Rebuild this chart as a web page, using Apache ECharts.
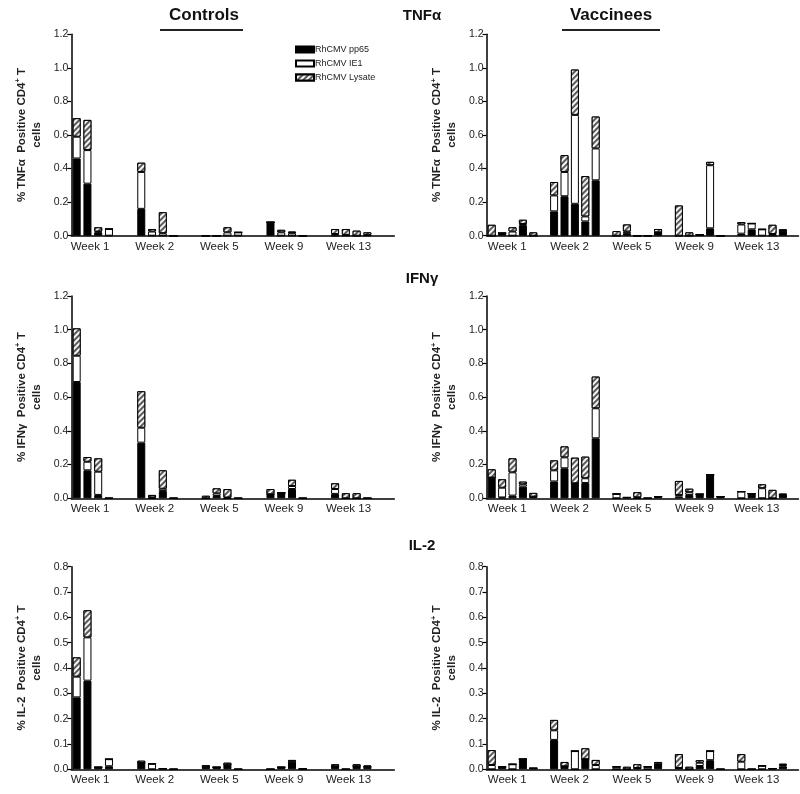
<!DOCTYPE html>
<html><head><meta charset="utf-8">
<script src="https://cdn.jsdelivr.net/npm/echarts@6/dist/echarts.min.js"></script>
<style>html,body{margin:0;padding:0;background:#fff}#c{width:800px;height:794px}</style>
</head><body><div id="c"></div>
<script>
const weeks = ['Week 1', 'Week 2', 'Week 5', 'Week 9', 'Week 13'];
const antigens = ['RhCMV pp65', 'RhCMV IE1', 'RhCMV Lysate'];

// rows = weeks, columns = animals
const tnfCtrlPp65 = [[0.46,0.31,0.02,0],[0.16,0,0,0],[0,0,0,0],[0.08,0,0,0],[0,0,0,0]];
const tnfCtrlIe1  = [[0.13,0.20,0.005,0.04],[0.22,0.025,0.015,0],[0,0,0.02,0.02],[0,0.02,0.015,0],[0.01,0.005,0,0.005]];
const tnfCtrlLys  = [[0.11,0.18,0.025,0],[0.055,0.015,0.125,0],[0,0,0.03,0],[0,0.015,0.01,0],[0.03,0.035,0.03,0.015]];

const tnfVacPp65 = [[0,0.015,0,0.063,0],[0.145,0.235,0.19,0.085,0.33],[0,0.015,0,0,0.02],[0,0,0.005,0.044,0],[0.012,0.038,0,0,0.03]];
const tnfVacIe1  = [[0,0,0.025,0.007,0],[0.095,0.145,0.53,0.03,0.19],[0,0.01,0,0,0],[0,0,0,0.376,0],[0.055,0.035,0.038,0.01,0]];
const tnfVacLys  = [[0.065,0,0.025,0.025,0.02],[0.08,0.10,0.27,0.24,0.19],[0.028,0.042,0,0,0.02],[0.18,0.02,0,0.02,0],[0.014,0,0,0.055,0.008]];

const ifnCtrlPp65 = [[0.69,0.166,0.02,0],[0.33,0,0.043,0],[0,0.014,0,0],[0.024,0.032,0.055,0],[0.026,0,0,0]];
const ifnCtrlIe1  = [[0.156,0.051,0.138,0],[0.089,0.005,0.014,0],[0,0.015,0.005,0],[0,0,0.018,0],[0.029,0,0,0]];
const ifnCtrlLys  = [[0.162,0.028,0.079,0],[0.216,0.015,0.109,0],[0.015,0.03,0.05,0],[0.031,0,0.037,0],[0.034,0.03,0.03,0]];

const ifnVacPp65 = [[0.123,0.005,0.016,0.069,0.01],[0.10,0.178,0.089,0.091,0.356],[0,0.005,0,0,0.01],[0.01,0.02,0.024,0.14,0.01],[0,0.028,0,0,0.02]];
const ifnVacIe1  = [[0,0.058,0.138,0.014,0],[0.066,0.065,0,0.028,0.178],[0.026,0,0.006,0,0],[0.01,0.016,0,0,0],[0.04,0,0.06,0,0]];
const ifnVacLys  = [[0.049,0.05,0.083,0.016,0.022],[0.059,0.065,0.152,0.128,0.188],[0,0,0.03,0,0],[0.083,0.021,0,0,0],[0,0,0.023,0.05,0.008]];

const il2CtrlPp65 = [[0.284,0.35,0.008,0.012],[0.025,0,0.003,0],[0.01,0.008,0.018,0],[0,0.008,0.03,0.002],[0.012,0,0.012,0.01]];
const il2CtrlIe1  = [[0.082,0.171,0,0.028],[0,0.022,0,0],[0,0,0,0],[0,0,0,0],[0,0,0,0]];
const il2CtrlLys  = [[0.076,0.107,0,0],[0.009,0,0,0],[0.006,0,0.008,0],[0,0,0.007,0],[0.008,0,0.008,0.005]];

const il2VacPp65 = [[0,0.009,0,0.04,0.004],[0.116,0.012,0,0.04,0],[0,0,0.005,0,0.02],[0.005,0,0.013,0.036,0],[0,0,0,0.003,0.012]];
const il2VacIe1  = [[0.017,0,0.02,0,0],[0.038,0,0.072,0,0.017],[0.01,0,0,0.01,0],[0,0,0.013,0.036,0],[0.03,0,0.014,0,0.005]];
const il2VacLys  = [[0.059,0,0,0,0],[0.041,0.017,0,0.043,0.02],[0,0.01,0.015,0,0.009],[0.055,0.01,0.01,0,0],[0.03,0,0,0,0.005]];

const yTitles = ['TNFα', 'TNFα', 'IFNγ', 'IFNγ', 'IL-2', 'IL-2'];
const yMax = [1.2, 1.2, 1.2, 1.2, 0.8, 0.8];
const yStep = [0.2, 0.2, 0.2, 0.2, 0.1, 0.1];

const panelData = [
  [tnfCtrlPp65, tnfCtrlIe1, tnfCtrlLys],
  [tnfVacPp65, tnfVacIe1, tnfVacLys],
  [ifnCtrlPp65, ifnCtrlIe1, ifnCtrlLys],
  [ifnVacPp65, ifnVacIe1, ifnVacLys],
  [il2CtrlPp65, il2CtrlIe1, il2CtrlLys],
  [il2VacPp65, il2VacIe1, il2VacLys]
];

// layout (not data)
const FONT = 'Liberation Sans, Arial, sans-serif';
const gridTops = [34.3, 34.3, 296, 296, 566.7, 566.7];
const gridHeights = [201.4, 201.4, 202.3, 202.3, 202.6, 202.6];
const isCtrl = i => i % 2 === 0;

const styles = [
  {color: '#000', borderColor: '#000', borderWidth: 1},
  {color: '#fff', borderColor: '#000', borderWidth: 1},
  {color: '#fff', borderColor: '#000', borderWidth: 1,
   decal: {symbol: 'rect', symbolSize: 1, color: '#5a5a5a', backgroundColor: '#f4f4f4',
           dashArrayX: [1, 0], dashArrayY: [1.2, 1.6], rotation: -Math.PI / 4}}
];

const grids = [], xAxes = [], yAxes = [], series = [];
panelData.forEach((vals, gi) => {
  const ctrl = isCtrl(gi);
  grids.push({left: ctrl ? 71.3 : 486.5, width: ctrl ? 323 : 312, top: gridTops[gi], height: gridHeights[gi]});
  xAxes.push({
    gridIndex: gi, type: 'category', data: weeks,
    axisLine: {show: true, lineStyle: {color: '#000', width: 1.5}},
    axisTick: {show: false},
    axisLabel: {fontFamily: FONT, fontSize: 11.5, color: '#222', margin: 5, padding: [0, ctrl ? 27 : 21, 0, 0]}
  });
  const t = yTitles[gi];
  yAxes.push({
    gridIndex: gi, type: 'value', min: 0, max: yMax[gi], interval: yStep[gi],
    axisLine: {show: true, lineStyle: {color: '#000', width: 1.5}},
    axisTick: {show: true, length: 4, lineStyle: {color: '#000', width: 1.2}},
    splitLine: {show: false},
    axisLabel: {formatter: v => v.toFixed(1), fontFamily: FONT, fontSize: 10.5, color: '#222', margin: 3},
    name: '{a|% ' + t + '  Positive CD4}{s|+}{a| T}\n{a|cells}',
    nameLocation: 'middle', nameGap: 27,
    nameTextStyle: {
      fontFamily: FONT, color: '#222',
      rich: {
        a: {fontFamily: FONT, fontSize: 11.5, fontWeight: 'bold', color: '#222', lineHeight: 15},
        s: {fontFamily: FONT, fontSize: 7.5, fontWeight: 'bold', color: '#222', verticalAlign: 'top', lineHeight: 9}
      }
    }
  });
  const nAnimals = vals[0][0].length;
  const nSlots = 6;
  const gap = ctrl ? '34.6%' : '30%';
  for (let a = 0; a < nAnimals; a++) {
    vals.forEach((arr, k) => {
      series.push({
        type: 'bar', name: antigens[k], xAxisIndex: gi, yAxisIndex: gi,
        stack: 'p' + gi + 'a' + a, barWidth: 8, barGap: gap,
        data: arr.map(w => w[a]), itemStyle: styles[k], emphasis: {disabled: true}
      });
    });
  }
  // empty spacer positions between week groups
  for (let d = nAnimals; d < nSlots; d++) {
    series.push({
      type: 'bar', xAxisIndex: gi, yAxisIndex: gi, stack: 'p' + gi + 's' + d,
      barWidth: 8, barGap: gap, data: [], silent: true
    });
  }
});

const chart = echarts.init(document.getElementById('c'), null, {renderer: 'canvas'});
chart.setOption({
  animation: false,
  backgroundColor: '#fff',
  grid: grids, xAxis: xAxes, yAxis: yAxes, series: series,
  legend: {
    data: antigens, orient: 'vertical', left: 290, top: 40,
    itemWidth: 18, itemHeight: 6, itemGap: 5, icon: 'rect', selectedMode: false,
    textStyle: {fontFamily: FONT, fontSize: 9, color: '#222', padding: [0, 0, 0, -4]}
  },
  graphic: [
    {type: 'text', x: 204, y: 7, style: {text: 'Controls', font: 'bold 17px ' + FONT, fill: '#111', textAlign: 'center'}},
    {type: 'line', shape: {x1: 160, y1: 30, x2: 243, y2: 30}, style: {stroke: '#222', lineWidth: 2}},
    {type: 'text', x: 611, y: 7, style: {text: 'Vaccinees', font: 'bold 17px ' + FONT, fill: '#111', textAlign: 'center'}},
    {type: 'line', shape: {x1: 562, y1: 30, x2: 660, y2: 30}, style: {stroke: '#222', lineWidth: 2}},
    {type: 'text', x: 422, y: 8, style: {text: 'TNFα', font: 'bold 15px ' + FONT, fill: '#111', textAlign: 'center'}},
    {type: 'text', x: 422, y: 271, style: {text: 'IFNγ', font: 'bold 15px ' + FONT, fill: '#111', textAlign: 'center'}},
    {type: 'text', x: 422, y: 538, style: {text: 'IL-2', font: 'bold 15px ' + FONT, fill: '#111', textAlign: 'center'}}
  ]
});
</script></body></html>
